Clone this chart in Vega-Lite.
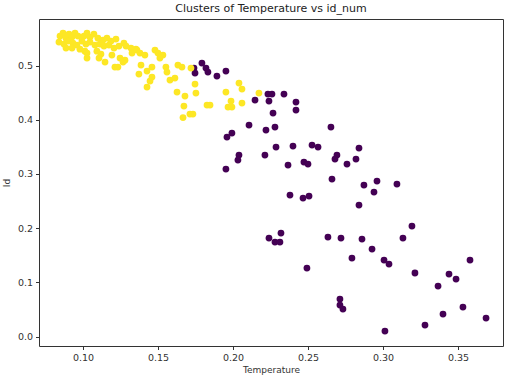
{
  "$schema": "https://vega.github.io/schema/vega-lite/v6.json",
  "autosize": {"type": "none"},
  "width": 464,
  "height": 327,
  "padding": {"left": 39, "top": 19, "right": 2, "bottom": 30},
  "background": "white",
  "title": {"text": "Clusters of Temperature vs id_num", "font": "DejaVu Sans", "fontSize": 11, "fontWeight": "normal", "color": "#222", "offset": 5},
  "config": {
    "view": {"stroke": "#333", "strokeWidth": 1},
    "axis": {"grid": false, "domain": false, "tickColor": "#333", "tickSize": 3.5, "labelFont": "DejaVu Sans", "labelFontSize": 9.5, "labelColor": "#333", "titleFont": "DejaVu Sans", "titleFontSize": 9, "titleFontWeight": "normal", "titleColor": "#333"}
  },
  "data": {"values": [
    {"t":0.174,"id":0.4954,"c":0},{"t":0.1747,"id":0.4862,"c":0},{"t":0.1793,"id":0.5046,"c":0},{"t":0.182,"id":0.4954,"c":0},
    {"t":0.1833,"id":0.488,"c":0},{"t":0.1893,"id":0.4806,"c":0},{"t":0.1953,"id":0.4898,"c":0},{"t":0.2147,"id":0.4363,"c":0},
    {"t":0.2233,"id":0.4474,"c":0},{"t":0.226,"id":0.4474,"c":0},{"t":0.234,"id":0.4474,"c":0},{"t":0.224,"id":0.4345,"c":0},
    {"t":0.242,"id":0.4327,"c":0},{"t":0.242,"id":0.4179,"c":0},{"t":0.2267,"id":0.4124,"c":0},{"t":0.2107,"id":0.3902,"c":0},
    {"t":0.222,"id":0.381,"c":0},{"t":0.228,"id":0.3865,"c":0},{"t":0.2653,"id":0.3865,"c":0},{"t":0.1993,"id":0.3755,"c":0},
    {"t":0.196,"id":0.3681,"c":0},{"t":0.2287,"id":0.3496,"c":0},{"t":0.24,"id":0.3515,"c":0},{"t":0.2527,"id":0.3533,"c":0},
    {"t":0.2567,"id":0.3496,"c":0},{"t":0.284,"id":0.3478,"c":0},{"t":0.2213,"id":0.3349,"c":0},{"t":0.204,"id":0.3349,"c":0},
    {"t":0.2033,"id":0.3256,"c":0},{"t":0.2693,"id":0.3349,"c":0},{"t":0.268,"id":0.3275,"c":0},{"t":0.282,"id":0.3275,"c":0},
    {"t":0.1953,"id":0.309,"c":0},{"t":0.2367,"id":0.3164,"c":0},{"t":0.2473,"id":0.3219,"c":0},{"t":0.25,"id":0.3183,"c":0},
    {"t":0.276,"id":0.3183,"c":0},{"t":0.266,"id":0.2906,"c":0},{"t":0.2873,"id":0.2795,"c":0},{"t":0.296,"id":0.2869,"c":0},
    {"t":0.3093,"id":0.2814,"c":0},{"t":0.294,"id":0.2666,"c":0},{"t":0.238,"id":0.2611,"c":0},{"t":0.2467,"id":0.2555,"c":0},
    {"t":0.2507,"id":0.2592,"c":0},{"t":0.284,"id":0.2426,"c":0},{"t":0.3193,"id":0.2039,"c":0},{"t":0.3133,"id":0.1817,"c":0},
    {"t":0.224,"id":0.1817,"c":0},{"t":0.232,"id":0.191,"c":0},{"t":0.228,"id":0.1744,"c":0},{"t":0.2313,"id":0.1744,"c":0},
    {"t":0.2633,"id":0.1836,"c":0},{"t":0.272,"id":0.1817,"c":0},{"t":0.286,"id":0.1799,"c":0},{"t":0.2927,"id":0.1614,"c":0},
    {"t":0.2793,"id":0.1448,"c":0},{"t":0.3007,"id":0.1411,"c":0},{"t":0.304,"id":0.1338,"c":0},{"t":0.2493,"id":0.1264,"c":0},
    {"t":0.358,"id":0.1411,"c":0},{"t":0.3213,"id":0.1172,"c":0},{"t":0.344,"id":0.1153,"c":0},{"t":0.3487,"id":0.1061,"c":0},
    {"t":0.3367,"id":0.0932,"c":0},{"t":0.2713,"id":0.0692,"c":0},{"t":0.2713,"id":0.0581,"c":0},{"t":0.2733,"id":0.0507,"c":0},
    {"t":0.3533,"id":0.0544,"c":0},{"t":0.34,"id":0.0415,"c":0},{"t":0.3687,"id":0.0341,"c":0},{"t":0.328,"id":0.0212,"c":0},
    {"t":0.3013,"id":0.0101,"c":0},
    {"t":0.0847,"id":0.5544,"c":1},{"t":0.0867,"id":0.56,"c":1},{"t":0.0887,"id":0.5507,"c":1},{"t":0.0907,"id":0.5581,"c":1},
    {"t":0.0927,"id":0.5526,"c":1},{"t":0.0947,"id":0.56,"c":1},{"t":0.0967,"id":0.5544,"c":1},{"t":0.1007,"id":0.5544,"c":1},
    {"t":0.1027,"id":0.56,"c":1},{"t":0.1047,"id":0.5526,"c":1},{"t":0.1073,"id":0.5581,"c":1},{"t":0.11,"id":0.5507,"c":1},
    {"t":0.1133,"id":0.547,"c":1},{"t":0.116,"id":0.5507,"c":1},{"t":0.1187,"id":0.5452,"c":1},{"t":0.122,"id":0.5489,"c":1},
    {"t":0.1273,"id":0.5415,"c":1},{"t":0.084,"id":0.5434,"c":1},{"t":0.0873,"id":0.5397,"c":1},{"t":0.09,"id":0.5452,"c":1},
    {"t":0.0933,"id":0.5415,"c":1},{"t":0.096,"id":0.5378,"c":1},{"t":0.0993,"id":0.5452,"c":1},{"t":0.102,"id":0.5397,"c":1},
    {"t":0.1047,"id":0.5434,"c":1},{"t":0.108,"id":0.5378,"c":1},{"t":0.1113,"id":0.5397,"c":1},{"t":0.114,"id":0.536,"c":1},
    {"t":0.1173,"id":0.5378,"c":1},{"t":0.1207,"id":0.5323,"c":1},{"t":0.124,"id":0.536,"c":1},{"t":0.1287,"id":0.536,"c":1},
    {"t":0.132,"id":0.5323,"c":1},{"t":0.1353,"id":0.5304,"c":1},{"t":0.0887,"id":0.5323,"c":1},{"t":0.0927,"id":0.5323,"c":1},
    {"t":0.098,"id":0.5304,"c":1},{"t":0.1013,"id":0.5267,"c":1},{"t":0.1093,"id":0.5267,"c":1},{"t":0.112,"id":0.5212,"c":1},
    {"t":0.1027,"id":0.5231,"c":1},{"t":0.1027,"id":0.5138,"c":1},{"t":0.1107,"id":0.5138,"c":1},{"t":0.1147,"id":0.5065,"c":1},
    {"t":0.1193,"id":0.5194,"c":1},{"t":0.1247,"id":0.5138,"c":1},{"t":0.1213,"id":0.4972,"c":1},{"t":0.1233,"id":0.4972,"c":1},
    {"t":0.128,"id":0.5101,"c":1},{"t":0.1327,"id":0.5231,"c":1},{"t":0.136,"id":0.5286,"c":1},{"t":0.138,"id":0.5231,"c":1},
    {"t":0.1413,"id":0.5194,"c":1},{"t":0.148,"id":0.5286,"c":1},{"t":0.15,"id":0.5231,"c":1},{"t":0.1533,"id":0.5194,"c":1},
    {"t":0.1513,"id":0.5138,"c":1},{"t":0.1267,"id":0.5065,"c":1},
    {"t":0.1387,"id":0.5009,"c":1},{"t":0.1427,"id":0.4898,"c":1},{"t":0.1373,"id":0.4843,"c":1},{"t":0.146,"id":0.4972,"c":1},
    {"t":0.1553,"id":0.4972,"c":1},{"t":0.156,"id":0.488,"c":1},{"t":0.1633,"id":0.5009,"c":1},{"t":0.166,"id":0.4972,"c":1},
    {"t":0.172,"id":0.4954,"c":1},{"t":0.158,"id":0.4732,"c":1},{"t":0.1613,"id":0.4769,"c":1},{"t":0.146,"id":0.4788,"c":1},
    {"t":0.1447,"id":0.4714,"c":1},{"t":0.1427,"id":0.4603,"c":1},{"t":0.1627,"id":0.4511,"c":1},{"t":0.168,"id":0.4437,"c":1},
    {"t":0.1747,"id":0.4659,"c":1},{"t":0.1753,"id":0.4493,"c":1},{"t":0.1673,"id":0.4253,"c":1},{"t":0.1667,"id":0.4041,"c":1},
    {"t":0.1713,"id":0.4105,"c":1},{"t":0.1733,"id":0.4105,"c":1},
    {"t":0.1953,"id":0.4511,"c":1},{"t":0.1987,"id":0.4345,"c":1},{"t":0.206,"id":0.4308,"c":1},{"t":0.1967,"id":0.4234,"c":1},
    {"t":0.1993,"id":0.4234,"c":1},{"t":0.1827,"id":0.4271,"c":1},{"t":0.1847,"id":0.4271,"c":1},{"t":0.204,"id":0.4677,"c":1},
    {"t":0.206,"id":0.4566,"c":1},{"t":0.2173,"id":0.4493,"c":1}
  ]},
  "mark": {"type": "circle", "size": 46, "opacity": 1},
  "encoding": {
    "x": {"field": "t", "type": "quantitative", "title": "Temperature",
      "scale": {"domain": [0.0707, 0.380], "nice": false, "zero": false},
      "axis": {"values": [0.10, 0.15, 0.20, 0.25, 0.30, 0.35], "format": ".2f", "labelPadding": 3, "titlePadding": 3}},
    "y": {"field": "id", "type": "quantitative", "title": "Id",
      "scale": {"domain": [-0.0175, 0.586], "nice": false, "zero": false},
      "axis": {"values": [0, 0.1, 0.2, 0.3, 0.4, 0.5], "format": ".1f", "labelPadding": 3, "titlePadding": 6}},
    "color": {"field": "c", "type": "nominal", "scale": {"domain": [0, 1], "range": ["#440154", "#fde725"]}, "legend": null}
  }
}
